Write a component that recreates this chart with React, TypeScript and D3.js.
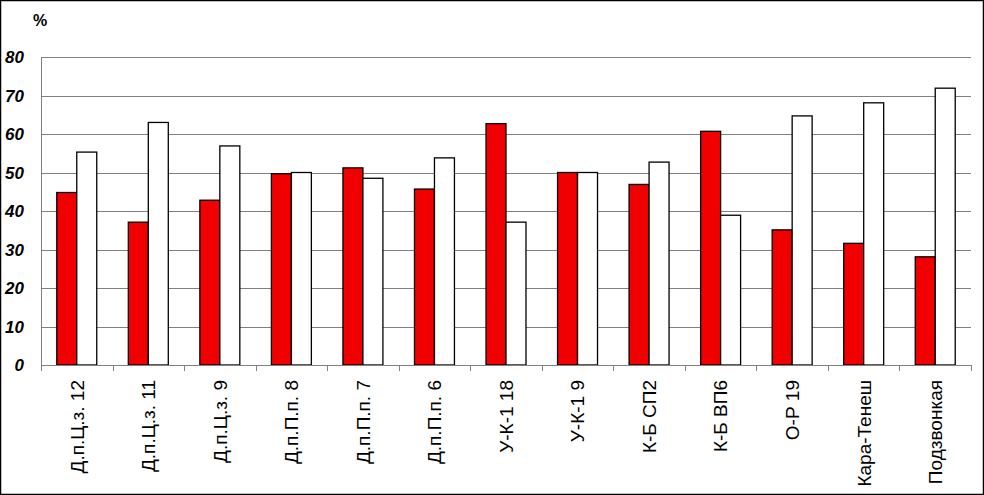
import { useEffect, useRef } from "react";
import * as d3 from "d3";

const categories = [
  "Д.п.Ц.з. 12",
  "Д.п.Ц.з. 11",
  "Д.п.Ц.з. 9",
  "Д.п.П.п. 8",
  "Д.п.П.п. 7",
  "Д.п.П.п. 6",
  "У-К-1 18",
  "У-К-1 9",
  "К-Б СП2",
  "К-Б ВП6",
  "О-Р 19",
  "Кара-Тенеш",
  "Подзвонкая",
];
const redValues = [44.8, 37.1, 42.8, 49.7, 51.2, 45.7, 62.7, 50.0, 46.9, 60.7, 35.1, 31.6, 28.1];
const whiteValues = [55.3, 63.0, 56.9, 50.0, 48.5, 53.8, 37.1, 50.0, 52.7, 38.9, 64.7, 68.1, 71.9];
const yTicks = [0, 10, 20, 30, 40, 50, 60, 70, 80];

export default function App() {
  const ref = useRef<SVGSVGElement>(null);

  useEffect(() => {
    const width = 984,
      height = 495;
    const marginLeft = 41,
      marginRight = 13,
      marginTop = 57,
      marginBottom = 130;

    const svg = d3.select(ref.current);
    svg.selectAll("*").remove();

    // outer frame
    svg
      .append("rect")
      .attr("x", 0.5)
      .attr("y", 0.5)
      .attr("width", width - 1)
      .attr("height", height - 1)
      .attr("fill", "white")
      .attr("stroke", "black")
      .attr("stroke-width", 1.5);

    const x = d3
      .scaleBand()
      .domain(categories)
      .range([marginLeft, width - marginRight])
      .paddingInner(0)
      .paddingOuter(0);

    const xs = d3
      .scaleBand()
      .domain(["red", "white"])
      .range([0, x.bandwidth()])
      .paddingOuter(0.79)
      .paddingInner(0);

    const y = d3
      .scaleLinear()
      .domain([0, 80])
      .range([height - marginBottom, marginTop]);

    // grid
    svg
      .append("g")
      .selectAll("line")
      .data(yTicks.filter((d) => d > 0))
      .join("line")
      .attr("x1", marginLeft)
      .attr("x2", width - marginRight)
      .attr("y1", (d) => Math.round(y(d)) + 0.5)
      .attr("y2", (d) => Math.round(y(d)) + 0.5)
      .attr("stroke", "#808080")
      .attr("stroke-width", 1);

    // y axis line
    svg
      .append("line")
      .attr("x1", marginLeft + 0.5)
      .attr("x2", marginLeft + 0.5)
      .attr("y1", y(80))
      .attr("y2", y(0))
      .attr("stroke", "#808080");

    // y tick labels
    svg
      .append("g")
      .attr("font-family", "Liberation Sans, Arial, sans-serif")
      .attr("font-size", 17)
      .attr("font-weight", "bold")
      .attr("font-style", "italic")
      .attr("text-anchor", "end")
      .selectAll("text")
      .data(yTicks)
      .join("text")
      .attr("x", 24)
      .attr("y", (d) => y(d))
      .attr("dy", "0.36em")
      .text((d) => d);

    svg
      .append("text")
      .attr("x", 33)
      .attr("y", 26)
      .attr("font-family", "Liberation Sans, Arial, sans-serif")
      .attr("font-size", 16)
      .attr("font-weight", "bold")
      .text("%");

    // bars
    const group = svg
      .append("g")
      .selectAll("g")
      .data(categories)
      .join("g")
      .attr("transform", (d) => `translate(${x(d)},0)`);

    group
      .append("rect")
      .attr("x", xs("red")!)
      .attr("width", xs.bandwidth())
      .attr("y", (_, i) => y(redValues[i]))
      .attr("height", (_, i) => y(0) - y(redValues[i]))
      .attr("fill", "#f00000")
      .attr("stroke", "black")
      .attr("stroke-width", 1.3);

    group
      .append("rect")
      .attr("x", xs("white")!)
      .attr("width", xs.bandwidth())
      .attr("y", (_, i) => y(whiteValues[i]))
      .attr("height", (_, i) => y(0) - y(whiteValues[i]))
      .attr("fill", "white")
      .attr("stroke", "black")
      .attr("stroke-width", 1.3);

    // x axis
    svg
      .append("line")
      .attr("x1", marginLeft)
      .attr("x2", width - marginRight)
      .attr("y1", Math.round(y(0)) + 0.5)
      .attr("y2", Math.round(y(0)) + 0.5)
      .attr("stroke", "#808080");

    svg
      .append("g")
      .selectAll("line")
      .data(categories.map((c) => x(c)!).concat([width - marginRight]))
      .join("line")
      .attr("x1", (d) => Math.round(d) + 0.5)
      .attr("x2", (d) => Math.round(d) + 0.5)
      .attr("y1", y(0))
      .attr("y2", y(0) + 6)
      .attr("stroke", "#808080");

    svg
      .append("g")
      .attr("font-family", "Liberation Sans, Arial, sans-serif")
      .attr("font-size", 19)
      .attr("text-anchor", "end")
      .selectAll("text")
      .data(categories)
      .join("text")
      .attr(
        "transform",
        (d) => `translate(${x(d)! + x.bandwidth() / 2},${y(0) + 15}) rotate(-90)`
      )
      .attr("dy", "0.36em")
      .text((d) => d);
  }, []);

  return (
    <svg
      ref={ref}
      width={984}
      height={495}
      style={{ position: "absolute", left: 0, top: 0 }}
    />
  );
}
